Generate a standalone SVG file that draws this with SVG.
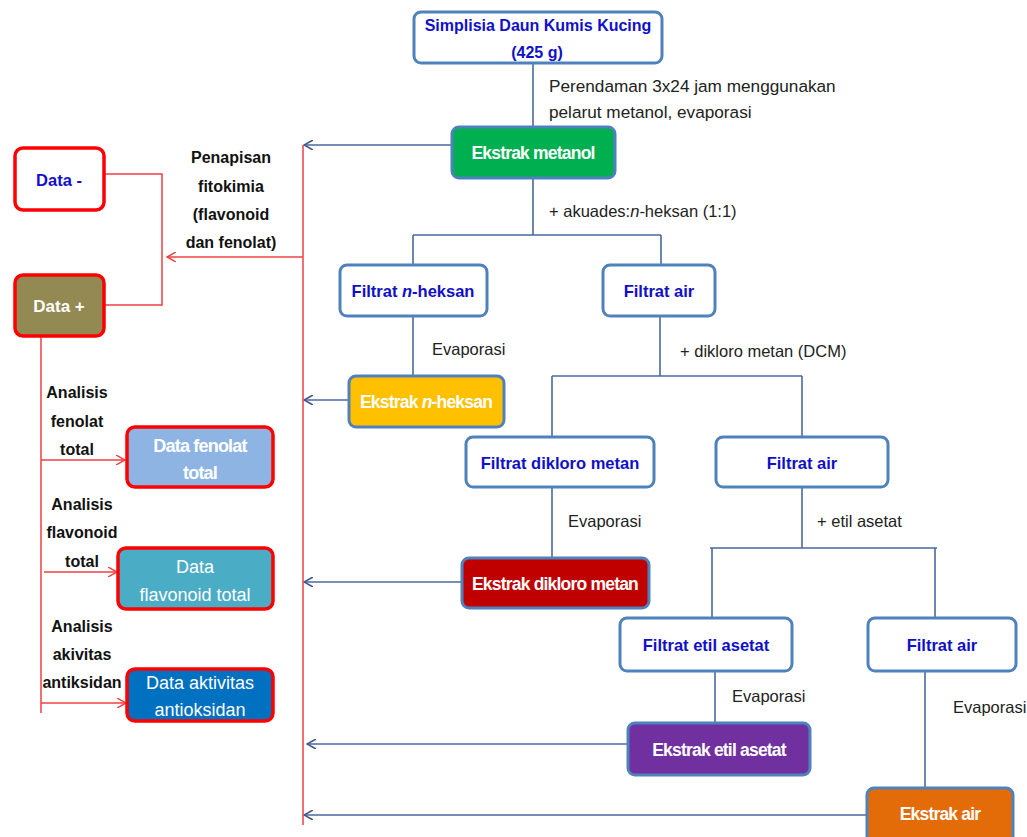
<svg xmlns="http://www.w3.org/2000/svg" width="1027" height="837" viewBox="0 0 1027 837">
<style>
.box{stroke:#4F81BD;stroke-width:3}
.wbox{fill:#fff}
.rbox{stroke:#FF0000;stroke-width:3.5}
.t{font-family:"Liberation Sans",Arial,sans-serif;text-anchor:middle}
.bt{font-weight:bold;fill:#1010C8;font-size:16.5px}
.et{font-weight:bold;fill:#fff;font-size:17.5px;letter-spacing:-0.8px}
.lab{font-family:"Liberation Sans",Arial,sans-serif;font-size:16.5px;fill:#222}
.blab{font-family:"Liberation Sans",Arial,sans-serif;font-size:16px;font-weight:bold;fill:#111;text-anchor:middle}
.conn{stroke:#4A6A9E;stroke-width:1.6;fill:none}
.red{stroke:#F04040;stroke-width:1.5;fill:none}
.dt{font-family:"Liberation Sans",Arial,sans-serif;text-anchor:middle;fill:#fff;font-size:18px}
</style>
<defs>
<marker id="ab" viewBox="0 0 10 10" refX="9" refY="5" markerWidth="10" markerHeight="10" markerUnits="userSpaceOnUse" orient="auto">
<path d="M0,0 L9,5 L0,10" fill="none" stroke="#3F5A8E" stroke-width="1.6"/>
</marker>
<marker id="ar" viewBox="0 0 10 10" refX="9" refY="5" markerWidth="10" markerHeight="10" markerUnits="userSpaceOnUse" orient="auto">
<path d="M0,0 L9,5 L0,10" fill="none" stroke="#F04040" stroke-width="1.5"/>
</marker>
</defs>

<g id="connectors">
<path class="conn" d="M533,63 V127"/>
<path class="conn" d="M533,178 V235 M413,235 H661 M413,235 V265 M661,235 V265"/>
<path class="conn" d="M413,316 V376"/>
<path class="conn" d="M660,316 V376 M552,376 H802 M552,376 V437 M802,376 V437"/>
<path class="conn" d="M552,487 V558"/>
<path class="conn" d="M802,487 V548 M710,548 H937 M712,548 V618 M935,548 V618"/>
<path class="conn" d="M715,671 V723"/>
<path class="conn" d="M925,671 V788"/>
<path class="conn" d="M452,145 H304" marker-end="url(#ab)"/>
<path class="conn" d="M349,400 H304" marker-end="url(#ab)"/>
<path class="conn" d="M462,582 H304" marker-end="url(#ab)"/>
<path class="conn" d="M628,744 H307" marker-end="url(#ab)"/>
<path class="conn" d="M867,815 H304" marker-end="url(#ab)"/>
<path class="red" d="M303,145 V825"/>
<path class="red" d="M303,257 H167" marker-end="url(#ar)"/>
<path class="red" d="M104,174 H162 V305 H104"/>
<path class="red" d="M41,336 V713"/>
<path class="red" d="M41,460 H125" marker-end="url(#ar)"/>
<path class="red" d="M44,572 H117" marker-end="url(#ar)"/>
<path class="red" d="M41,703 H126" marker-end="url(#ar)"/>
</g>

<g id="labels">
<text class="lab" x="549" y="92" style="font-size:17.2px">Perendaman 3x24 jam menggunakan</text>
<text class="lab" x="549" y="118" style="font-size:17.2px">pelarut metanol, evaporasi</text>
<text class="lab" x="549" y="217">+  akuades:<tspan font-style="italic">n</tspan>-heksan (1:1)</text>
<text class="lab" x="432" y="355">Evaporasi</text>
<text class="lab" x="680" y="357">+  dikloro metan (DCM)</text>
<text class="lab" x="568" y="527">Evaporasi</text>
<text class="lab" x="817" y="527">+ etil asetat</text>
<text class="lab" x="732" y="702">Evaporasi</text>
<text class="lab" x="953" y="713">Evaporasi</text>
<text class="blab" x="231" y="163">Penapisan</text>
<text class="blab" x="231" y="192">fitokimia</text>
<text class="blab" x="231" y="220">(flavonoid</text>
<text class="blab" x="231" y="248">dan fenolat)</text>
<text class="blab" x="77" y="398">Analisis</text>
<text class="blab" x="77" y="427">fenolat</text>
<text class="blab" x="77" y="455">total</text>
<text class="blab" x="82" y="510">Analisis</text>
<text class="blab" x="82" y="538">flavonoid</text>
<text class="blab" x="82" y="567">total</text>
<text class="blab" x="82" y="632">Analisis</text>
<text class="blab" x="82" y="660">akivitas</text>
<text class="blab" x="82" y="688">antiksidan</text>
</g>

<g id="simplisia">
<rect class="box wbox" x="414" y="12" width="248" height="51" rx="7"/>
<text class="t bt" style="font-size:16px" x="538" y="31">Simplisia Daun Kumis Kucing</text>
<text class="t bt" style="font-size:16px" x="537" y="58">(425 g)</text>
</g>
<g id="ekstrak-metanol">
<rect class="box" fill="#00B050" x="452" y="127" width="163" height="51" rx="7"/>
<text class="t et" x="533" y="159">Ekstrak metanol</text>
</g>
<g id="filtrat-nheksan">
<rect class="box wbox" x="340" y="265" width="147" height="51" rx="7"/>
<text class="t bt" x="413" y="297">Filtrat <tspan font-style="italic">n</tspan>-heksan</text>
</g>
<g id="filtrat-air-1">
<rect class="box wbox" x="603" y="265" width="112" height="51" rx="7"/>
<text class="t bt" x="659" y="297">Filtrat air</text>
</g>
<g id="ekstrak-nheksan">
<rect class="box" fill="#FFC000" x="349" y="376" width="155" height="51" rx="7"/>
<text class="t et" x="426" y="408">Ekstrak <tspan font-style="italic">n</tspan>-heksan</text>
</g>
<g id="filtrat-dcm">
<rect class="box wbox" x="466" y="437" width="188" height="50" rx="7"/>
<text class="t bt" x="560" y="469">Filtrat dikloro metan</text>
</g>
<g id="filtrat-air-2">
<rect class="box wbox" x="716" y="437" width="172" height="50" rx="7"/>
<text class="t bt" x="802" y="469">Filtrat air</text>
</g>
<g id="ekstrak-dcm">
<rect class="box" fill="#C00000" x="462" y="558" width="187" height="50" rx="7"/>
<text class="t et" x="555" y="590">Ekstrak dikloro metan</text>
</g>
<g id="filtrat-etil">
<rect class="box wbox" x="620" y="618" width="172" height="53" rx="7"/>
<text class="t bt" x="706" y="651">Filtrat etil asetat</text>
</g>
<g id="filtrat-air-3">
<rect class="box wbox" x="868" y="618" width="148" height="53" rx="7"/>
<text class="t bt" x="942" y="651">Filtrat air</text>
</g>
<g id="ekstrak-etil">
<rect class="box" fill="#7030A0" x="628" y="723" width="182" height="52" rx="7"/>
<text class="t et" x="719" y="756">Ekstrak etil asetat</text>
</g>
<g id="ekstrak-air">
<rect class="box" fill="#E36C09" x="867" y="788" width="146" height="56" rx="7"/>
<text class="t et" x="940" y="820">Ekstrak air</text>
</g>
<g id="data-minus">
<rect class="rbox" fill="#fff" x="15" y="148" width="89" height="62" rx="8"/>
<text class="t bt" x="59" y="186">Data -</text>
</g>
<g id="data-plus">
<rect class="rbox" fill="#938953" x="15" y="275" width="89" height="61" rx="8"/>
<text class="t" font-weight="bold" fill="#fff" font-size="17" x="59" y="312">Data +</text>
</g>
<g id="data-fenolat">
<rect class="rbox" fill="#8DB4E2" x="127" y="427" width="146" height="60" rx="8"/>
<text class="dt" font-weight="bold" letter-spacing="-0.8" x="200" y="452">Data fenolat</text>
<text class="dt" font-weight="bold" letter-spacing="-0.8" x="200" y="479">total</text>
</g>
<g id="data-flavonoid">
<rect class="rbox" fill="#4BACC6" x="118" y="548" width="155" height="61" rx="8"/>
<text class="dt" x="195" y="573">Data</text>
<text class="dt" x="195" y="601">flavonoid total</text>
</g>
<g id="data-antioksidan">
<rect class="rbox" fill="#0070C0" x="127" y="669" width="146" height="52" rx="8"/>
<text class="dt" x="200" y="689">Data aktivitas</text>
<text class="dt" x="200" y="716">antioksidan</text>
</g>
</svg>
